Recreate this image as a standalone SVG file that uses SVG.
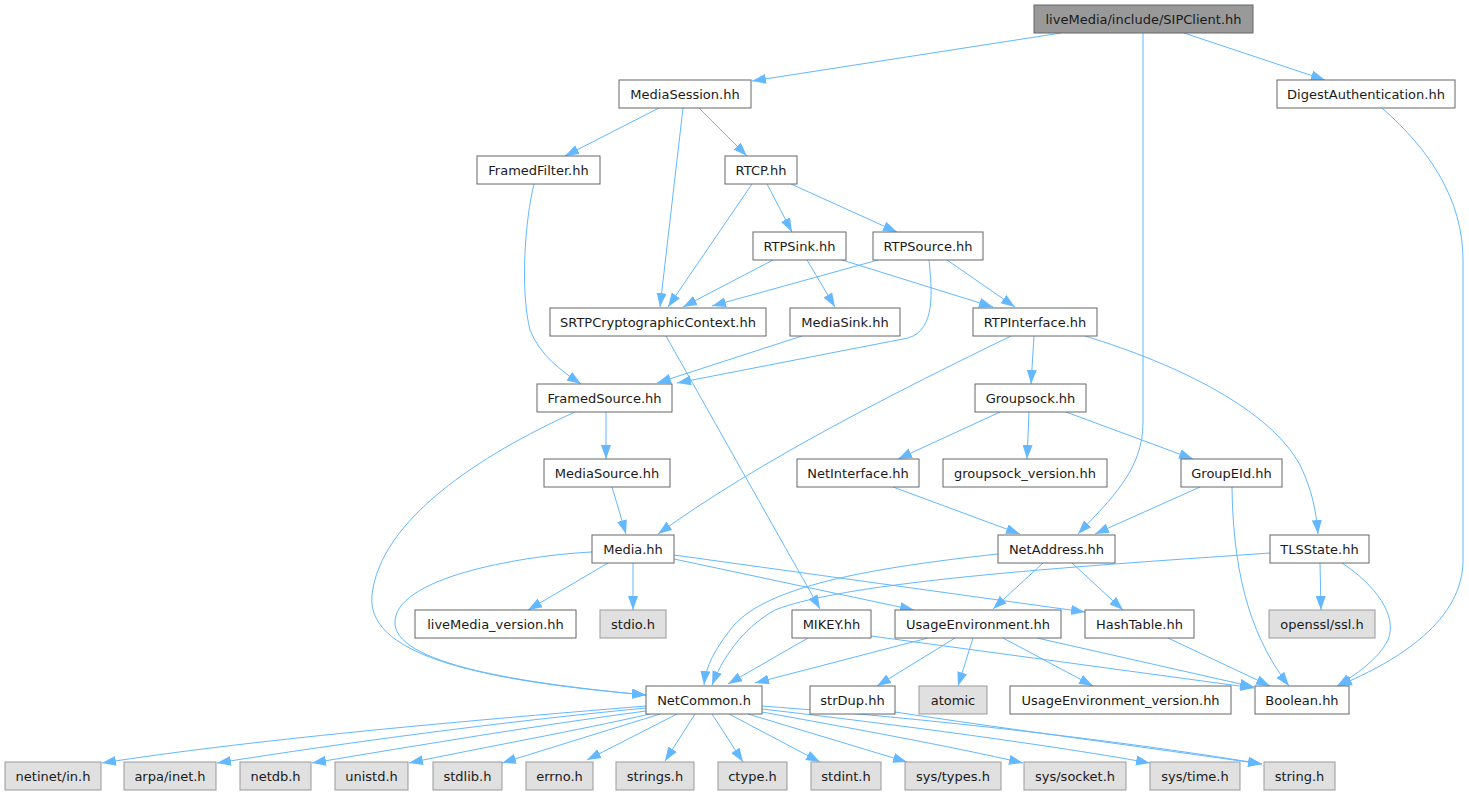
<svg xmlns="http://www.w3.org/2000/svg" width="1469" height="795" viewBox="0 0 1469 795">
<defs>
<marker id="ah" markerUnits="userSpaceOnUse" markerWidth="15" markerHeight="11" refX="14" refY="5.5" orient="auto">
<path d="M0,0.5 L14,5.5 L0,10.5 z" fill="#63b8ff"/>
</marker>
</defs>
<style>
rect{stroke-width:1}
.n rect{fill:#ffffff;stroke:#666666}
.s rect{fill:#e0e0e0;stroke:#999999}
.r rect{fill:#999999;stroke:#666666}
text{font-family:"DejaVu Sans",Verdana,sans-serif;font-size:13px;fill:#1a1a1a;text-anchor:middle}
#edges path{fill:none;stroke:#63b8ff;stroke-width:1;marker-end:url(#ah)}
</style>
<rect width="1469" height="795" fill="#ffffff"/>
<g id="edges">
<path d="M1061,33 L752,81"/>
<path d="M1143,33 L1143,423 C1143,470 1110,500 1078,534"/>
<path d="M1184,33 L1325,80"/>
<path d="M1382,108 C1430,150 1463,200 1463,260 L1463,560 C1463,620 1400,660 1338,686"/>
<path d="M659,108 L565,156"/>
<path d="M683,108 L660,307"/>
<path d="M699,108 L747,156"/>
<path d="M534,184 C525,220 520,290 530,330 C540,355 560,370 581,384"/>
<path d="M752,184 L668,307"/>
<path d="M767,184 L792,232"/>
<path d="M791,184 L897,232"/>
<path d="M773,260 L683,307"/>
<path d="M807,260 L835,307"/>
<path d="M842,260 L993,307"/>
<path d="M878,260 L712,306"/>
<path d="M929,260 C932,290 936,330 908,338 L677,383"/>
<path d="M947,260 L1015,307"/>
<path d="M666,336 L820,609"/>
<path d="M802,336 L657,383"/>
<path d="M606,412 L606,459"/>
<path d="M575,412 C480,455 380,520 372,595 C365,660 500,682 646,695"/>
<path d="M612,487 L626,534"/>
<path d="M1034,336 L1031,384"/>
<path d="M1011,336 C900,390 760,460 658,534"/>
<path d="M1085,336 C1180,365 1270,410 1300,465 C1312,490 1316,510 1318,534"/>
<path d="M1000,412 L898,459"/>
<path d="M1029,412 L1027,459"/>
<path d="M1066,412 L1193,459"/>
<path d="M893,487 L1020,534"/>
<path d="M1200,487 L1095,534"/>
<path d="M1232,487 C1233,560 1245,630 1289,686"/>
<path d="M608,563 L528,610"/>
<path d="M633,563 L633,610"/>
<path d="M674,559 L914,610"/>
<path d="M674,555 L1085,612"/>
<path d="M592,552 C530,555 400,575 395,620 C390,665 530,684 646,695"/>
<path d="M998,554 C850,570 760,590 730,630 C715,650 706,665 704,685"/>
<path d="M1270,553 C1100,565 850,580 775,610 C740,630 722,660 712,685"/>
<path d="M1043,563 L993,609"/>
<path d="M1072,563 L1123,610"/>
<path d="M1320,563 L1321,610"/>
<path d="M1342,563 C1375,585 1398,615 1388,640 C1378,660 1355,675 1337,686"/>
<path d="M808,638 L728,684"/>
<path d="M871,636 L1254,688"/>
<path d="M928,638 L755,683"/>
<path d="M955,638 L877,686"/>
<path d="M973,638 L958,686"/>
<path d="M1003,638 L1093,686"/>
<path d="M1037,638 L1254,687"/>
<path d="M1168,638 L1270,686"/>
<path d="M895,712 C1000,728 1150,748 1262,764"/>
<path d="M646,706 C450,722 250,740 102,763"/>
<path d="M646,708 C500,722 350,742 217,763"/>
<path d="M646,711 C540,725 420,745 312,763"/>
<path d="M650,714 C580,730 480,748 409,763"/>
<path d="M660,714 L502,763"/>
<path d="M677,714 L587,760"/>
<path d="M695,714 L665,761"/>
<path d="M712,714 L743,762"/>
<path d="M729,714 L820,762"/>
<path d="M748,714 L907,762"/>
<path d="M762,712 C850,728 950,746 1023,763"/>
<path d="M762,709 C900,725 1050,745 1150,763"/>
<path d="M762,706 C950,720 1150,745 1262,764"/>
</g>
<g id="n0" class="r"><rect x="1034" y="5" width="219" height="28"/><text x="1143.5" y="23.5">liveMedia/include/SIPClient.hh</text></g>
<g id="n1" class="n"><rect x="619" y="80" width="132" height="28"/><text x="685" y="98.5">MediaSession.hh</text></g>
<g id="n2" class="n"><rect x="1277" y="80" width="178" height="28"/><text x="1366" y="98.5">DigestAuthentication.hh</text></g>
<g id="n3" class="n"><rect x="477" y="156" width="123" height="28"/><text x="538.5" y="174.5">FramedFilter.hh</text></g>
<g id="n4" class="n"><rect x="725" y="156" width="72" height="28"/><text x="761" y="174.5">RTCP.hh</text></g>
<g id="n5" class="n"><rect x="753" y="232" width="93" height="28"/><text x="799.5" y="250.5">RTPSink.hh</text></g>
<g id="n6" class="n"><rect x="873" y="232" width="110" height="28"/><text x="928" y="250.5">RTPSource.hh</text></g>
<g id="n7" class="n"><rect x="550" y="308" width="216" height="28"/><text x="658" y="326.5">SRTPCryptographicContext.hh</text></g>
<g id="n8" class="n"><rect x="790" y="308" width="110" height="28"/><text x="845" y="326.5">MediaSink.hh</text></g>
<g id="n9" class="n"><rect x="973" y="308" width="124" height="28"/><text x="1035" y="326.5">RTPInterface.hh</text></g>
<g id="n10" class="n"><rect x="537" y="384" width="135" height="28"/><text x="604.5" y="402.5">FramedSource.hh</text></g>
<g id="n11" class="n"><rect x="975" y="384" width="111" height="28"/><text x="1030.5" y="402.5">Groupsock.hh</text></g>
<g id="n12" class="n"><rect x="544" y="459" width="126" height="28"/><text x="607" y="477.5">MediaSource.hh</text></g>
<g id="n13" class="n"><rect x="797" y="459" width="122" height="28"/><text x="858" y="477.5">NetInterface.hh</text></g>
<g id="n14" class="n"><rect x="943" y="459" width="164" height="28"/><text x="1025" y="477.5">groupsock_version.hh</text></g>
<g id="n15" class="n"><rect x="1181" y="459" width="101" height="28"/><text x="1231.5" y="477.5">GroupEId.hh</text></g>
<g id="n16" class="n"><rect x="592" y="535" width="82" height="28"/><text x="633" y="553.5">Media.hh</text></g>
<g id="n17" class="n"><rect x="998" y="535" width="117" height="28"/><text x="1056.5" y="553.5">NetAddress.hh</text></g>
<g id="n18" class="n"><rect x="1270" y="535" width="99" height="28"/><text x="1319.5" y="553.5">TLSState.hh</text></g>
<g id="n19" class="n"><rect x="415" y="610" width="161" height="28"/><text x="495.5" y="628.5">liveMedia_version.hh</text></g>
<g id="n20" class="s"><rect x="600" y="610" width="66" height="28"/><text x="633" y="628.5">stdio.h</text></g>
<g id="n21" class="n"><rect x="792" y="610" width="79" height="28"/><text x="831.5" y="628.5">MIKEY.hh</text></g>
<g id="n22" class="n"><rect x="895" y="610" width="166" height="28"/><text x="978" y="628.5">UsageEnvironment.hh</text></g>
<g id="n23" class="n"><rect x="1085" y="610" width="109" height="28"/><text x="1139.5" y="628.5">HashTable.hh</text></g>
<g id="n24" class="s"><rect x="1269" y="610" width="106" height="28"/><text x="1322" y="628.5">openssl/ssl.h</text></g>
<g id="n25" class="n"><rect x="646" y="686" width="116" height="28"/><text x="704" y="704.5">NetCommon.h</text></g>
<g id="n26" class="n"><rect x="810" y="686" width="85" height="28"/><text x="852.5" y="704.5">strDup.hh</text></g>
<g id="n27" class="s"><rect x="919" y="686" width="68" height="28"/><text x="953" y="704.5">atomic</text></g>
<g id="n28" class="n"><rect x="1010" y="686" width="221" height="28"/><text x="1120.5" y="704.5">UsageEnvironment_version.hh</text></g>
<g id="n29" class="n"><rect x="1255" y="686" width="94" height="28"/><text x="1302" y="704.5">Boolean.hh</text></g>
<g id="n30" class="s"><rect x="5" y="762" width="96" height="28"/><text x="53" y="780.5">netinet/in.h</text></g>
<g id="n31" class="s"><rect x="124" y="762" width="92" height="28"/><text x="170" y="780.5">arpa/inet.h</text></g>
<g id="n32" class="s"><rect x="240" y="762" width="71" height="28"/><text x="275.5" y="780.5">netdb.h</text></g>
<g id="n33" class="s"><rect x="335" y="762" width="73" height="28"/><text x="371.5" y="780.5">unistd.h</text></g>
<g id="n34" class="s"><rect x="433" y="762" width="69" height="28"/><text x="467.5" y="780.5">stdlib.h</text></g>
<g id="n35" class="s"><rect x="526" y="762" width="67" height="28"/><text x="559.5" y="780.5">errno.h</text></g>
<g id="n36" class="s"><rect x="616" y="762" width="78" height="28"/><text x="655" y="780.5">strings.h</text></g>
<g id="n37" class="s"><rect x="718" y="762" width="69" height="28"/><text x="752.5" y="780.5">ctype.h</text></g>
<g id="n38" class="s"><rect x="811" y="762" width="70" height="28"/><text x="846" y="780.5">stdint.h</text></g>
<g id="n39" class="s"><rect x="905" y="762" width="96" height="28"/><text x="953" y="780.5">sys/types.h</text></g>
<g id="n40" class="s"><rect x="1024" y="762" width="102" height="28"/><text x="1075" y="780.5">sys/socket.h</text></g>
<g id="n41" class="s"><rect x="1150" y="762" width="90" height="28"/><text x="1195" y="780.5">sys/time.h</text></g>
<g id="n42" class="s"><rect x="1264" y="762" width="71" height="28"/><text x="1299.5" y="780.5">string.h</text></g>
</svg>
